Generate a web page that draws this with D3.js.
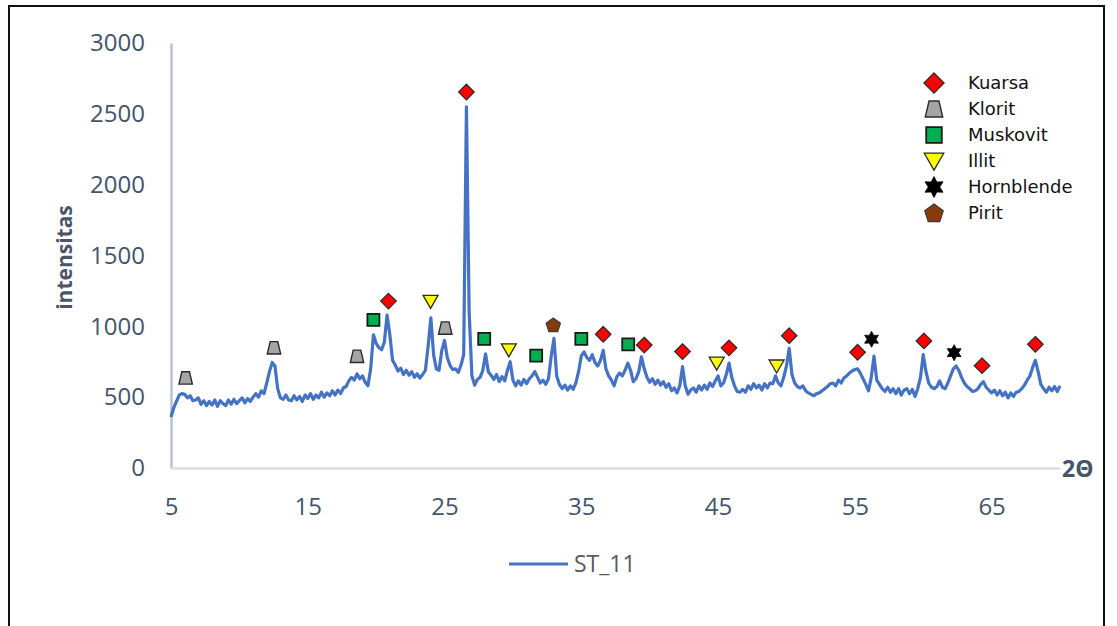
<!DOCTYPE html>
<html>
<head>
<meta charset="utf-8">
<script src="https://cdn.jsdelivr.net/npm/d3@7"></script>
<style>
  html, body { margin: 0; padding: 0; background: #fff; }
  svg { display: block; }
</style>
</head>
<body>
<svg id="chart" width="1117" height="626"></svg>
<script>
// XRD pattern of sample ST_11: 2θ from 5° to 70° in 0.2° steps
const twoTheta = d3.range(326).map(i => +(5 + i * 0.2).toFixed(1));
const intensity = [
  360, 425, 470, 515, 525,   // 5
  520, 495, 510, 475, 480,   // 6
  495, 450, 475, 440, 470,   // 7
  445, 480, 435, 475, 455,   // 8
  440, 480, 450, 485, 455,   // 9
  475, 495, 460, 490, 470,   // 10
  500, 525, 500, 545, 525,   // 11
  600, 680, 745, 720, 560,   // 12
  495, 485, 515, 480, 475,   // 13
  510, 480, 505, 470, 515,   // 14
  490, 525, 485, 515, 495,   // 15
  535, 500, 530, 510, 545,   // 16
  515, 550, 525, 565, 575,   // 17
  615, 640, 620, 665, 630,   // 18
  650, 605, 580, 700, 940,   // 19
  880, 850, 835, 890, 1080,  // 20
  940, 760, 725, 685, 705,   // 21
  660, 690, 655, 680, 640,   // 22
  665, 635, 660, 690, 860,   // 23
  1060, 800, 700, 690, 830,  // 24
  900, 780, 725, 695, 700,   // 25
  675, 725, 800, 2550, 1100, // 26
  650, 585, 625, 640, 690,   // 27
  805, 680, 655, 625, 660,   // 28
  610, 645, 615, 690, 750,   // 29
  620, 580, 615, 585, 625,   // 30
  595, 630, 650, 680, 640,   // 31
  600, 620, 590, 630, 790,   // 32
  915, 650, 590, 560, 585,   // 33
  550, 580, 555, 600, 680,   // 34
  790, 820, 780, 760, 800,   // 35
  745, 720, 760, 830, 700,   // 36
  650, 620, 580, 645, 670,   // 37
  650, 690, 740, 690, 610,   // 38
  630, 680, 785, 700, 640,   // 39
  605, 630, 590, 620, 585,   // 40
  610, 570, 595, 545, 565,   // 41
  530, 580, 715, 580, 520,   // 42
  550, 565, 535, 580, 550,   // 43
  585, 555, 600, 575, 615,   // 44
  650, 580, 600, 660, 740,   // 45
  640, 580, 540, 535, 555,   // 46
  535, 580, 555, 595, 565,   // 47
  585, 550, 595, 565, 600,   // 48
  595, 650, 600, 580, 640,   // 49
  720, 845, 660, 600, 575,   // 50
  565, 580, 545, 530, 520,   // 51
  510, 525, 530, 545, 560,   // 52
  575, 595, 600, 580, 620,   // 53
  600, 635, 650, 670, 685,   // 54
  695, 700, 670, 630, 590,   // 55
  545, 640, 790, 620, 590,   // 56
  560, 540, 570, 535, 560,   // 57
  525, 560, 515, 550, 560,   // 58
  525, 555, 505, 560, 640,   // 59
  800, 680, 600, 570, 560,   // 60
  575, 615, 570, 560, 600,   // 61
  650, 700, 720, 690, 640,   // 62
  600, 575, 560, 540, 545,   // 63
  560, 590, 610, 570, 550,   // 64
  530, 550, 515, 545, 510,   // 65
  535, 495, 530, 505, 535,   // 66
  540, 560, 585, 620, 650,   // 67
  710, 760, 680, 590, 560,   // 68
  535, 570, 545, 575, 540,   // 69
  580                        // 70
];

// Mineral identification markers: [2θ, marker height]
const kuarsa     = [[20.9, 1178], [26.6, 2654], [36.6, 944], [39.6, 868], [42.4, 822], [45.8, 848],
                    [50.2, 934], [55.2, 817], [60.05, 897], [64.3, 722], [68.2, 873]];
const klorit     = [[6.07, 636], [12.53, 848], [18.6, 788], [25.05, 988]];
const muskovit   = [[19.8, 1045], [27.9, 912], [31.7, 793], [35.0, 912], [38.43, 873]];
const illit      = [[23.98, 1176], [29.7, 834], [44.9, 740], [49.28, 720]];
const hornblende = [[56.22, 909], [62.26, 814]];
const pirit      = [[32.95, 1010]];

const mineralNames = ["Kuarsa", "Klorit", "Muskovit", "Illit", "Hornblende", "Pirit"];
const seriesName = "ST_11";
const yTicks = [0, 500, 1000, 1500, 2000, 2500, 3000];
const xTicks = [5, 15, 25, 35, 45, 55, 65];

const svg = d3.select("#chart");

// frame
svg.append("rect")
  .attr("x", 9).attr("y", 6).attr("width", 1095).attr("height", 640)
  .attr("fill", "none").attr("stroke", "#111").attr("stroke-width", 2);

const x = d3.scaleLinear().domain([5, 70]).range([171, 1060]);
const y = d3.scaleLinear().domain([0, 3000]).range([468, 43]);

const tickColor = "#44546A";
const tickFont = "'Open Sans', sans-serif";

// y axis
const yAxis = svg.append("g").attr("transform", `translate(${x(5)},0)`)
  .call(d3.axisLeft(y).tickValues(yTicks).tickSize(0).tickPadding(26).tickFormat(d3.format("d")));
yAxis.select(".domain").attr("stroke", "#b7c2d6").attr("stroke-width", 2.5);
yAxis.selectAll("text").attr("fill", tickColor).attr("font-family", tickFont).attr("font-size", 24);

// x axis
const xAxis = svg.append("g").attr("transform", `translate(0,${y(0)})`)
  .call(d3.axisBottom(x).tickValues(xTicks).tickSize(0).tickPadding(30).tickFormat(d3.format("d")));
xAxis.select(".domain").attr("stroke", "#dadfe7").attr("stroke-width", 2.5);
xAxis.selectAll("text").attr("fill", tickColor).attr("font-family", tickFont).attr("font-size", 24);

// axis titles
svg.append("text")
  .attr("transform", `translate(72,${(y(0) + y(3000)) / 2 + 2}) rotate(-90)`)
  .attr("text-anchor", "middle")
  .attr("font-family", tickFont).attr("font-weight", 700).attr("font-size", 21)
  .attr("fill", "#4a5568").text("intensitas");

svg.append("text")
  .attr("x", x(70) + 2).attr("y", y(0) + 9)
  .attr("font-family", tickFont).attr("font-weight", 700).attr("font-size", 23)
  .attr("fill", "#44546A").text("2Θ");

// diffraction trace
const pattern = twoTheta.map((t, i) => [t, intensity[i]]);
svg.append("path")
  .datum(pattern)
  .attr("fill", "none")
  .attr("stroke", "#4472C4")
  .attr("stroke-width", 3.2)
  .attr("stroke-linejoin", "round")
  .attr("d", d3.line().x(d => x(d[0])).y(d => y(d[1])));

// marker shapes (drawn around 0,0; s = scale)
const shapes = {
  diamond: s => `M0,${-7.8*s}L${7.8*s},0L0,${7.8*s}L${-7.8*s},0Z`,
  trapezoid: s => `M${-3.8*s},${-6.2*s}L${3.8*s},${-6.2*s}L${6.7*s},${6.2*s}L${-6.7*s},${6.2*s}Z`,
  square: s => `M${-6*s},${-6*s}H${6*s}V${6*s}H${-6*s}Z`,
  triangle: s => `M${-7.5*s},${-6*s}L${7.5*s},${-6*s}L0,${7*s}Z`,
  star: s => {
    const pts = [];
    for (let k = 0; k < 12; k++) {
      const r = (k % 2 === 0 ? 8 : 4.4) * s;
      const a = Math.PI / 6 * k - Math.PI / 2;
      pts.push([r * Math.cos(a), r * Math.sin(a)]);
    }
    return "M" + pts.map(p => p.join(",")).join("L") + "Z";
  },
  pentagon: s => {
    const pts = [];
    for (let k = 0; k < 5; k++) {
      const a = 2 * Math.PI / 5 * k - Math.PI / 2;
      pts.push([7.5 * s * Math.cos(a), 7.5 * s * Math.sin(a) + 0.6 * s]);
    }
    return "M" + pts.map(p => p.join(",")).join("L") + "Z";
  }
};

const minerals = [
  { name: mineralNames[0], data: kuarsa,     shape: "diamond",   fill: "#FF0000", stroke: "#2a2a2a", sw: 1.2 },
  { name: mineralNames[1], data: klorit,     shape: "trapezoid", fill: "#A5A5A5", stroke: "#2a2a2a", sw: 1.4 },
  { name: mineralNames[2], data: muskovit,   shape: "square",    fill: "#00B050", stroke: "#1a1a1a", sw: 1.8 },
  { name: mineralNames[3], data: illit,      shape: "triangle",  fill: "#FFFF00", stroke: "#2a2a2a", sw: 1.3 },
  { name: mineralNames[4], data: hornblende, shape: "star",      fill: "#000000", stroke: "#000000", sw: 0.8 },
  { name: mineralNames[5], data: pirit,      shape: "pentagon",  fill: "#843C0C", stroke: "#3a3a3a", sw: 1.2 }
];

minerals.forEach(m => {
  svg.append("g").selectAll("path")
    .data(m.data)
    .join("path")
    .attr("transform", d => `translate(${x(d[0])},${y(d[1])})`)
    .attr("d", shapes[m.shape](1))
    .attr("fill", m.fill)
    .attr("stroke", m.stroke)
    .attr("stroke-width", m.sw)
    .attr("stroke-linejoin", "miter");
});

// mineral legend
const legend = svg.append("g").attr("transform", "translate(934,83)");
minerals.forEach((m, i) => {
  const row = legend.append("g").attr("transform", `translate(0,${i * 26})`);
  row.append("path")
    .attr("d", shapes[m.shape](1.3))
    .attr("fill", m.fill)
    .attr("stroke", m.stroke)
    .attr("stroke-width", m.sw);
  row.append("text")
    .attr("x", 34).attr("y", 0).attr("dy", "0.36em")
    .attr("font-family", "'DejaVu Sans', sans-serif").attr("font-size", 18)
    .attr("fill", "#111").text(m.name);
});

// series legend
svg.append("line")
  .attr("x1", 509).attr("x2", 568).attr("y1", 564).attr("y2", 564)
  .attr("stroke", "#4472C4").attr("stroke-width", 3);
svg.append("text")
  .attr("x", 574).attr("y", 564).attr("dy", "0.36em")
  .attr("font-family", tickFont).attr("font-size", 23)
  .attr("fill", "#595959").text(seriesName);
</script>
</body>
</html>
